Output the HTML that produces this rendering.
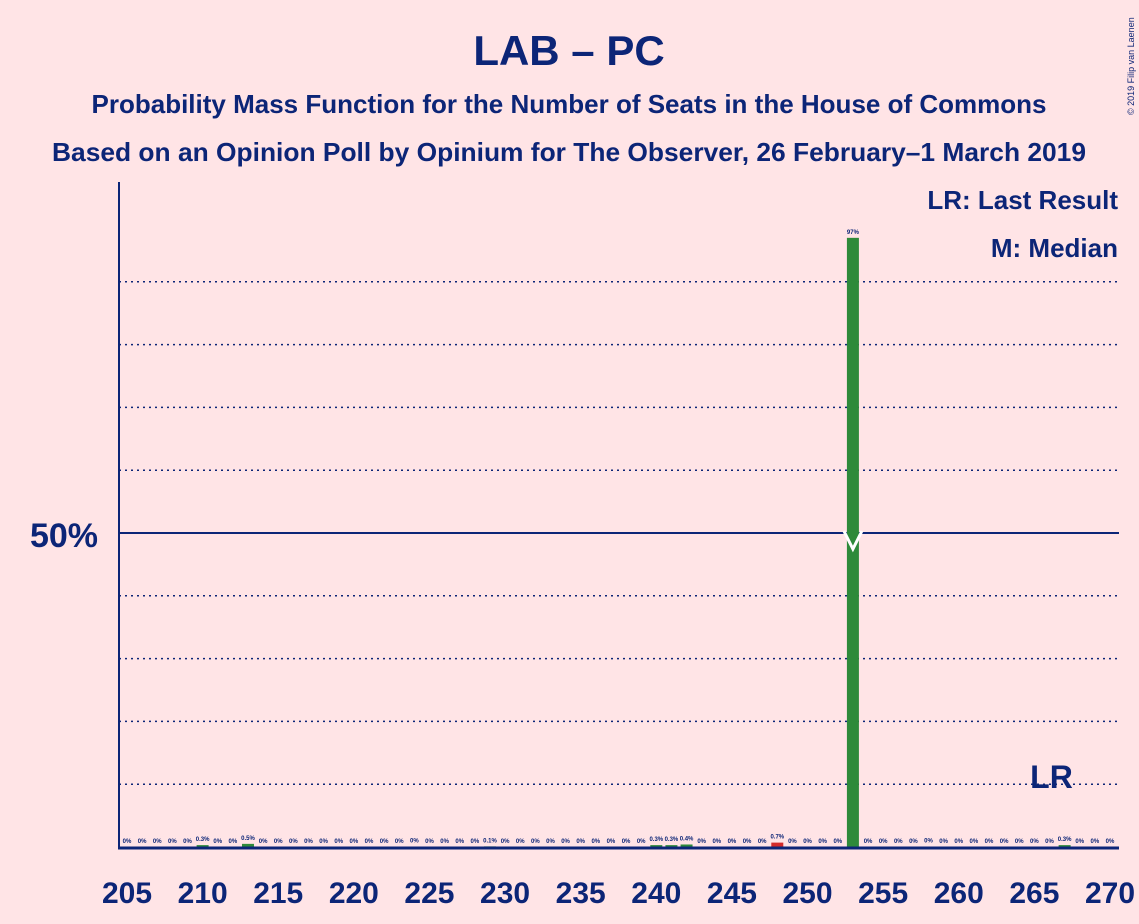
<!DOCTYPE html>
<html><head><meta charset="utf-8"><style>
body{margin:0;background:#FFE4E6;}
svg{display:block;font-family:"Liberation Sans",sans-serif;}
</style></head><body>
<svg id="chart" width="1139" height="924">
<rect width="1139" height="924" fill="#FFE4E6"/>
<text x="569" y="65" text-anchor="middle" font-size="42" font-weight="bold" fill="#0C2577">LAB – PC</text>
<text x="569" y="113" text-anchor="middle" font-size="26" font-weight="bold" fill="#0C2577" textLength="955" lengthAdjust="spacingAndGlyphs">Probability Mass Function for the Number of Seats in the House of Commons</text>
<text x="569" y="161" text-anchor="middle" font-size="26" font-weight="bold" fill="#0C2577" textLength="1034" lengthAdjust="spacingAndGlyphs">Based on an Opinion Poll by Opinium for The Observer, 26 February–1 March 2019</text>
<text x="1134" y="115" font-size="9" fill="#0C2577" transform="rotate(-90 1134 115)">© 2019 Filip van Laenen</text>
<text x="1118" y="209" text-anchor="end" font-size="26" font-weight="bold" fill="#0C2577">LR: Last Result</text>
<text x="1118" y="257" text-anchor="end" font-size="26" font-weight="bold" fill="#0C2577">M: Median</text>
<g id="grid"></g>
<g id="bars"></g>
<g id="labels"></g>
<g id="ticks"></g>
<line x1="119" y1="182" x2="119" y2="849" stroke="#0C2577" stroke-width="2"/>
<line x1="118" y1="848" x2="1119" y2="848" stroke="#0C2577" stroke-width="3"/>
<text x="98" y="547" text-anchor="end" font-size="34" font-weight="bold" fill="#0C2577">50%</text>
</svg>
<script>
const seats=[205,206,207,208,209,210,211,212,213,214,215,216,217,218,219,220,221,222,223,224,225,226,227,228,229,230,231,232,233,234,235,236,237,238,239,240,241,242,243,244,245,246,247,248,249,250,251,252,253,254,255,256,257,258,259,260,261,262,263,264,265,266,267,268,269,270];
const probs=[0,0,0,0,0,0.3,0,0,0.5,0,0,0,0,0,0,0,0,0,0,0.04,0,0,0,0,0.1,0,0,0,0,0,0,0,0,0,0,0.3,0.3,0.4,0,0,0,0,0,0.7,0,0,0,0,97,0,0,0,0,0.04,0,0,0,0,0,0,0,0,0.3,0,0,0];
const valueLabels=["0%","0%","0%","0%","0%","0.3%","0%","0%","0.5%","0%","0%","0%","0%","0%","0%","0%","0%","0%","0%","0%","0%","0%","0%","0%","0.1%","0%","0%","0%","0%","0%","0%","0%","0%","0%","0%","0.3%","0.3%","0.4%","0%","0%","0%","0%","0%","0.7%","0%","0%","0%","0%","97%","0%","0%","0%","0%","0%","0%","0%","0%","0%","0%","0%","0%","0%","0.3%","0%","0%","0%"];
const xTicks=[205,210,215,220,225,230,235,240,245,250,255,260,265,270];
const gridLevels=[10,20,30,40,60,70,80,90];
const lastResult=248, lastResultLabelSeat=266, median=253;
const NS="http://www.w3.org/2000/svg";
const x=s=>127+(s-205)*(983/65);
const y=p=>847-p*6.28;
function mk(tag,attrs,parent){const e=document.createElementNS(NS,tag);for(const k in attrs)e.setAttribute(k,attrs[k]);document.getElementById(parent).appendChild(e);return e;}
gridLevels.forEach(g=>{
 const l=mk('line',{x1:119,x2:1119,y1:y(g),y2:y(g),stroke:'#0C2577','stroke-width':1.5,'stroke-dasharray':'2,4'},'grid');
 
 
});
const ml=mk('line',{x1:119,x2:1119,y1:y(50),y2:y(50),stroke:'#0C2577','stroke-width':2},'grid');


seats.forEach((s,i)=>{
 const p=probs[i];
 if(p>0){
  const col=s===lastResult?'#D42A2A':'#2E8A3A';
  const r=mk('rect',{x:x(s)-6,y:y(p),width:12,height:847-y(p),fill:col},'bars');
  
  
 }
 const t=mk('text',{x:x(s),y:Math.min(y(p),847)-4,'text-anchor':'middle','font-size':6,'font-weight':'bold',fill:'#0C2577'},'labels');
 t.textContent=valueLabels[i];
 
 
});
const mp=mk('polyline',{points:`${x(median)-9},${y(50)-2} ${x(median)},${y(50)+16} ${x(median)+9},${y(50)-2}`,fill:'none',stroke:'#fff','stroke-width':3},'bars');


xTicks.forEach(s=>{
 const t=mk('text',{x:x(s),y:903,'text-anchor':'middle','font-size':30,'font-weight':'bold',fill:'#0C2577'},'ticks');
 t.textContent=s;
 
 
});
const lr=mk('text',{x:x(lastResultLabelSeat)+2,y:788,'text-anchor':'middle','font-size':32,'font-weight':'bold',fill:'#0C2577'},'ticks');
lr.textContent='LR';


</script>
</body></html>
